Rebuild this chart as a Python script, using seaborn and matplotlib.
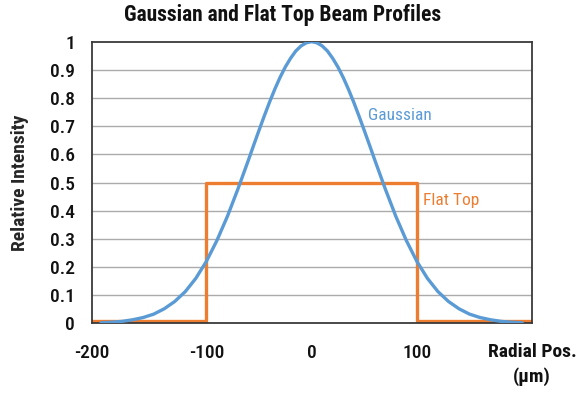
import numpy as np
import pandas as pd
import matplotlib
matplotlib.use('Agg')
import matplotlib.pyplot as plt
import seaborn as sns

# Values
gauss_x = [-200, -190, -180, -170, -160, -150, -140, -130, -120, -110, -100,
           -90, -80, -70, -60, -55, -50, -45, -40, -35, -30, -25, -20, -15, -10, -5,
           0, 5, 10, 15, 20, 25, 30, 35, 40, 45, 50, 55, 60, 70, 80, 90,
           100, 110, 120, 130, 140, 150, 160, 170, 180, 190, 200]
gauss_y = [0.0024, 0.0043, 0.0074, 0.013, 0.021, 0.033, 0.052, 0.078, 0.113, 0.160, 0.220,
           0.294, 0.380, 0.477, 0.580, 0.633, 0.685, 0.736, 0.785, 0.831, 0.873, 0.910, 0.941, 0.967, 0.985, 0.996,
           1.0, 0.996, 0.985, 0.967, 0.941, 0.910, 0.873, 0.831, 0.785, 0.736, 0.685, 0.633, 0.580, 0.477, 0.380, 0.294,
           0.220, 0.160, 0.113, 0.078, 0.052, 0.033, 0.021, 0.013, 0.0074, 0.0043, 0.0024]

flat_x = [-209, -100, -100, 100, 100, 209]
flat_y = [0.008, 0.008, 0.5, 0.5, 0.008, 0.008]

x_ticks = [-209, -100, 0, 100]
x_labels = ['-200', '-100', '0', '100']
y_ticks = [0, 0.1, 0.2, 0.3, 0.4, 0.5, 0.6, 0.7, 0.8, 0.9, 1.0]
y_labels = ['0', '0.1', '0.2', '0.3', '0.4', '0.5', '0.6', '0.7', '0.8', '0.9', '1']

blue = '#5B9BD5'
orange = '#ED7D31'

sns.set_style('white')
plt.rcParams['font.family'] = ['Roboto Condensed', 'Liberation Sans Narrow', 'Liberation Sans', 'DejaVu Sans']

gauss_df = pd.DataFrame({'x': gauss_x, 'y': gauss_y})
flat_df = pd.DataFrame({'x': flat_x, 'y': flat_y})

fig = plt.figure(figsize=(5.76, 3.93), dpi=100)
ax = fig.add_axes([0.159, 0.177, 0.764, 0.717])

# Horizontal gridlines
for yv in y_ticks[1:-1]:
    ax.axhline(yv, color='#ABABAB', lw=1.0, zorder=0)

sns.lineplot(data=gauss_df, x='x', y='y', ax=ax, color=blue, lw=2.4,
             estimator=None, sort=False, zorder=3)
sns.lineplot(data=flat_df, x='x', y='y', ax=ax, color=orange, lw=2.4,
             estimator=None, sort=False, zorder=2)

ax.set_xlim(-209, 209)
ax.set_ylim(0, 1)
ax.set_xticks(x_ticks)
ax.set_xticklabels(x_labels)
ax.set_yticks(y_ticks)
ax.set_yticklabels(y_labels)
ax.tick_params(axis='both', length=0, labelsize=14, colors='#111111')
ax.tick_params(axis='x', pad=15)
ax.tick_params(axis='y', pad=12)
for lbl in ax.get_xticklabels() + ax.get_yticklabels():
    lbl.set_fontweight('medium')
ax.set_xlabel('')
ax.set_ylabel('Relative Intensity', fontsize=14, fontweight='bold', labelpad=15)

for side in ['left', 'right', 'top', 'bottom']:
    ax.spines[side].set_visible(True)
    ax.spines[side].set_color('#3A3A3A')
    ax.spines[side].set_linewidth(1.3)

ax.text(54, 0.739, 'Gaussian', color=blue, fontsize=12.5, va='center', ha='left')
ax.text(106, 0.437, 'Flat Top', color=orange, fontsize=12.5, va='center', ha='left')

fig.text(0.49, 0.962, 'Gaussian and Flat Top Beam Profiles', ha='center', va='center',
         fontsize=15.5, fontweight='bold', color='#111111')
fig.text(0.924, 0.073, 'Radial Pos.\n(µm)', ha='center', va='center',
         fontsize=14, fontweight='bold', linespacing=1.4, color='#111111')

fig.savefig('out.png', dpi=100)
